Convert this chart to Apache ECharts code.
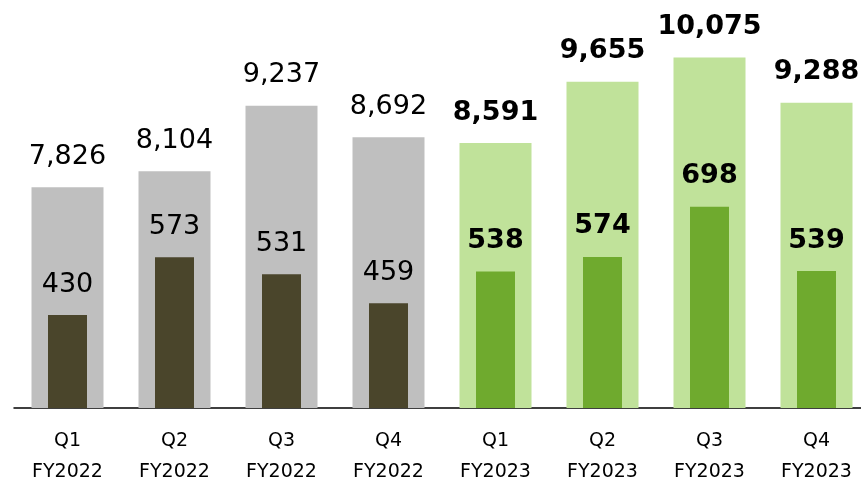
<!DOCTYPE html>
<html>
<head>
<meta charset="utf-8">
<script src="https://cdn.jsdelivr.net/npm/echarts@6/dist/echarts.min.js"></script>
<style>
  html, body { margin: 0; padding: 0; background: #fff; }
  #main { width: 861px; height: 478px; }
</style>
</head>
<body>
<div id="main"></div>
<script>
// 四半期
var categories = ['Q1\nFY2022', 'Q2\nFY2022', 'Q3\nFY2022', 'Q4\nFY2022',
                  'Q1\nFY2023', 'Q2\nFY2023', 'Q3\nFY2023', 'Q4\nFY2023'];
// 外側の太い棒
var outerValues = [7826, 8104, 9237, 8692, 8591, 9655, 10075, 9288];
// 内側の細い棒
var innerValues = [430, 573, 531, 459, 538, 574, 698, 539];

var myChart = echarts.init(document.getElementById('main'));

var FONT = 'DejaVu Sans';
function isNewYear(i) { return i >= 4; }

var option = {
    animation: false,
    grid: { left: 14, width: 856, top: 4, bottom: 70, containLabel: false, outerBoundsMode: 'none' },
    xAxis: [
        {
            type: 'category',
            data: categories,
            axisLine: { show: true, lineStyle: { color: '#000', width: 1.5 } },
            axisTick: { show: false },
            axisLabel: {
                margin: 18,
                fontFamily: FONT,
                fontSize: 19,
                lineHeight: 31,
                color: '#000'
            }
        },
        {
            type: 'category',
            data: categories,
            show: false
        }
    ],
    yAxis: [
        { type: 'value', min: 4000, max: 11000, show: false, splitLine: { show: false } },
        { type: 'value', min: 200, max: 1200, show: false, splitLine: { show: false } }
    ],
    series: [
        {
            type: 'bar',
            xAxisIndex: 0,
            yAxisIndex: 0,
            barWidth: 72,
            data: outerValues.map(function (v, i) {
                return {
                    value: v,
                    itemStyle: { color: isNewYear(i) ? '#C0E29A' : '#BFBFBF' },
                    label: { fontWeight: isNewYear(i) ? 'bold' : 'normal' }
                };
            }),
            label: {
                show: true,
                position: 'top',
                distance: 17,
                fontFamily: FONT,
                fontSize: 27,
                color: '#000',
                formatter: function (p) { return p.value.toLocaleString('en-US'); }
            }
        },
        {
            type: 'bar',
            xAxisIndex: 1,
            yAxisIndex: 1,
            barWidth: 39,
            data: innerValues.map(function (v, i) {
                return {
                    value: v,
                    itemStyle: { color: isNewYear(i) ? '#6FAA2E' : '#4A452B' },
                    label: { fontWeight: isNewYear(i) ? 'bold' : 'normal' }
                };
            }),
            label: {
                show: true,
                position: 'top',
                distance: 17,
                fontFamily: FONT,
                fontSize: 27,
                color: '#000'
            }
        }
    ]
};
myChart.setOption(option);
</script>
</body>
</html>
